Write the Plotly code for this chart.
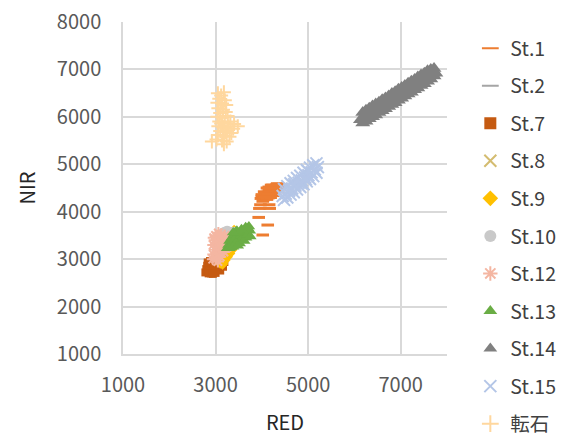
import plotly.graph_objects as go

# ---------------- data (RED, NIR) ----------------
st1_x = [3980, 4000, 4040, 4060, 4080, 4100, 4120, 4140, 4150, 4180, 4200, 4220, 4240, 4260,
         4280, 4300, 4320, 4340, 4360, 4380, 4200, 4150, 4050, 4250,
         4000, 4030, 4090, 4110, 4170, 4190, 4230, 4270, 4290, 4310, 4330, 4370, 4400, 4230,
         4180, 4130, 4070, 4020, 4110, 4350,
         3970, 4157, 3947, 4170, 3932, 4127, 4019]
st1_y = [4280, 4330, 4300, 4370, 4270, 4330, 4410, 4290, 4450, 4360, 4480, 4400, 4520, 4440,
         4550, 4480, 4570, 4510, 4550, 4520, 4560, 4520, 4420, 4340,
         4360, 4250, 4400, 4260, 4400, 4300, 4350, 4380, 4470, 4420, 4590, 4580, 4560, 4560,
         4500, 4370, 4320, 4220, 4500, 4430,
         4147, 4147, 4069, 4069, 3880, 3719, 3509]

st2_x = [3400, 3450, 3500, 3550, 3600, 3480, 3530]
st2_y = [3430, 3470, 3500, 3520, 3560, 3400, 3450]

st7_x = [2780, 2800, 2820, 2850, 2870, 2900, 2920, 2950, 2980, 3000, 3020, 3050, 3080, 3100,
         3130, 3160, 3190, 2830, 2880, 2960, 3060, 2850, 2940]
st7_y = [2720, 2790, 2860, 2730, 2810, 2700, 2900, 2760, 2840, 2710, 2920, 2800, 2880, 2760,
         2900, 2840, 2940, 2930, 2960, 2980, 2980, 2700, 2690]

st8_x = [3350, 3420, 3500, 3560, 3620, 3450]
st8_y = [3350, 3420, 3450, 3500, 3540, 3380]

st9_x = [3150, 3200, 3250, 3100, 3300, 3350, 3400]
st9_y = [2900, 2980, 3050, 2920, 3120, 3200, 3600]

st10_x = [3100, 3150, 3200, 3250, 3300, 3200, 3280, 3350, 3150, 3400]
st10_y = [3540, 3580, 3600, 3620, 3600, 3520, 3500, 3550, 3500, 3600]

st12_x = [2950, 2980, 2950, 2980, 3000, 3050, 3070, 3060, 3100, 3120, 3150, 3160, 3200, 3230,
          3250, 3000, 3050, 3100, 3180, 2960, 3060, 3120, 2940]
st12_y = [3100, 3200, 3300, 3400, 3500, 3150, 3250, 3350, 3450, 3200, 3300, 3400, 3500, 3350,
          3250, 3000, 2950, 3050, 3150, 3450, 3550, 3520, 3000]

st13_x = [3250, 3280, 3300, 3330, 3350, 3360, 3400, 3400, 3420, 3450, 3460, 3500, 3500, 3520,
          3550, 3560, 3600, 3600, 3620, 3650, 3660, 3700, 3700, 3740, 3750, 3720, 3300, 3380,
          3440, 3480, 3460, 3560, 3650, 3380]
st13_y = [3230, 3300, 3380, 3250, 3450, 3330, 3520, 3400, 3300, 3470, 3360, 3550, 3420, 3330,
          3500, 3400, 3600, 3470, 3380, 3560, 3450, 3650, 3520, 3600, 3480, 3690, 3230, 3260,
          3580, 3280, 3600, 3630, 3670, 3560]

st14_x = [6130, 6180, 6180, 6250, 6250, 6320, 6320, 6390, 6390, 6460, 6460, 6530, 6530, 6600,
          6600, 6670, 6670, 6740, 6740, 6810, 6810, 6880, 6880, 6950, 6950, 7020, 7020, 7090,
          7090, 7160, 7160, 7230, 7230, 7300, 7300, 7370, 7370, 7440, 7440, 7510, 7510, 7580,
          7580, 7650, 7650, 7720, 7720, 7760,
          6215, 6285, 6355, 6425, 6495, 6565, 6635, 6705, 6775, 6845, 6915, 6985, 7055, 7125,
          7195, 7265, 7335, 7405, 7475, 7545, 7615, 7685]
st14_y = [5940, 6090, 5870, 6140, 5910, 6180, 5960, 6230, 6000, 6270, 6040, 6310, 6090, 6360,
          6130, 6400, 6170, 6440, 6220, 6490, 6260, 6530, 6300, 6580, 6350, 6620, 6390, 6660,
          6440, 6710, 6480, 6750, 6520, 6790, 6570, 6840, 6610, 6880, 6660, 6920, 6700, 6970,
          6750, 7000, 6800, 7020, 6860, 6920,
          5990, 6030, 6080, 6120, 6170, 6210, 6250, 6300, 6340, 6380, 6430, 6470, 6520, 6560,
          6600, 6650, 6690, 6730, 6780, 6820, 6870, 6910]

st15_x = [4480, 4480, 4550, 4550, 4620, 4620, 4690, 4690, 4760, 4760, 4830, 4830, 4900, 4900,
          4970, 4970, 5040, 5040, 5110, 5110, 5180, 5180,
          4450, 4515, 4585, 4655, 4725, 4795, 4865, 4935, 5005, 5075, 5145, 5210,
          4600, 4850, 5000, 4700, 4950]
st15_y = [4480, 4250, 4540, 4300, 4600, 4360, 4650, 4410, 4710, 4470, 4760, 4520, 4820, 4580,
          4880, 4640, 4930, 4690, 4980, 4750, 5020, 4820,
          4330, 4380, 4440, 4490, 4550, 4610, 4660, 4720, 4770, 4830, 4890, 4940,
          4470, 4600, 4850, 4580, 4680]

tenseki_x = [3050, 3120, 3180, 3080, 3200, 3040, 3140, 3230, 3060, 3160, 3100, 3220, 3040, 3150,
             3260, 3080, 3200, 3320, 3400, 3060, 3160, 3280, 3480, 3380, 3100, 3220, 3340, 3050,
             3180, 3300, 3140, 3240, 3180, 2920, 3020, 3120, 3250]
tenseki_y = [6500, 6450, 6520, 6380, 6350, 6300, 6280, 6250, 6180, 6150, 6080, 6100, 6000, 5980,
             6020, 5900, 5880, 5900, 5850, 5800, 5780, 5800, 5800, 5750, 5700, 5680, 5660, 5620,
             5600, 5580, 5500, 5480, 5420, 5480, 5520, 5860, 5720]

x_ticks = [1000, 3000, 5000, 7000]
y_ticks = [1000, 2000, 3000, 4000, 5000, 6000, 7000, 8000]

series = [
    ("St.1", st1_x, st1_y, "line-ew", "#ED7D31", 9, True),
    ("St.2", st2_x, st2_y, "line-ew", "#A5A5A5", 9, True),
    ("St.7", st7_x, st7_y, "square", "#C55A11", 8, False),
    ("St.8", st8_x, st8_y, "x-thin", "#D4BC70", 9, True),
    ("St.9", st9_x, st9_y, "diamond", "#FFC000", 9, False),
    ("St.10", st10_x, st10_y, "circle", "#C9C9C9", 8, False),
    ("St.12", st12_x, st12_y, "asterisk", "#F4B6A2", 10, True),
    ("St.13", st13_x, st13_y, "triangle-up", "#6AAD45", 11, False),
    ("St.14", st14_x, st14_y, "triangle-up", "#808080", 13, False),
    ("St.15", st15_x, st15_y, "x-thin", "#B4C6E7", 12, True),
    ("転石", tenseki_x, tenseki_y, "cross-thin", "#FFD79E", 10, True),
]

FONT = "Noto Sans CJK JP"

fig = go.Figure()
for name, xs, ys, sym, col, size, is_line in series:
    if is_line:
        lw = 3 if sym == "line-ew" else 2
        marker = dict(symbol=sym, size=size, color=col, line=dict(color=col, width=lw))
    else:
        marker = dict(symbol=sym, size=size, color=col, line=dict(width=0))
    fig.add_trace(go.Scatter(x=xs, y=ys, mode="markers", name=name, marker=marker,
                             legendgroup=name))

grid = "#D9D9D9"
fig.update_layout(
    width=573, height=436,
    margin=dict(l=123, r=126, t=22, b=82, autoexpand=False),
    paper_bgcolor="white", plot_bgcolor="white",
    font=dict(family=FONT, size=20, color="#595959"),
    showlegend=True,
    legend=dict(x=1.072, xanchor="left", y=0.979, yanchor="top",
                font=dict(family=FONT, size=19.5, color="#404040"),
                tracegroupgap=9.2, bgcolor="rgba(0,0,0,0)", itemsizing="constant",
                maxheight=436),
    xaxis=dict(range=[1000, 8000], tickvals=x_ticks, ticktext=[str(v) for v in x_ticks],
               showgrid=True, gridcolor=grid, gridwidth=1.5, zeroline=False,
               showline=True, linecolor=grid, linewidth=1.5, ticks="",
               ticklabelstandoff=12, automargin=False,
               title=dict(text="RED", font=dict(family=FONT, size=20, color="#262626"), standoff=27)),
    yaxis=dict(range=[1000, 8000], tickvals=y_ticks, ticktext=[str(v) for v in y_ticks],
               showgrid=True, gridcolor=grid, gridwidth=1.5, zeroline=False,
               showline=True, linecolor=grid, linewidth=1.5, ticks="",
               ticklabelstandoff=16, automargin=False,
               title=dict(text="NIR", font=dict(family=FONT, size=20, color="#262626"), standoff=16)),
)

fig.write_html("out.html")
